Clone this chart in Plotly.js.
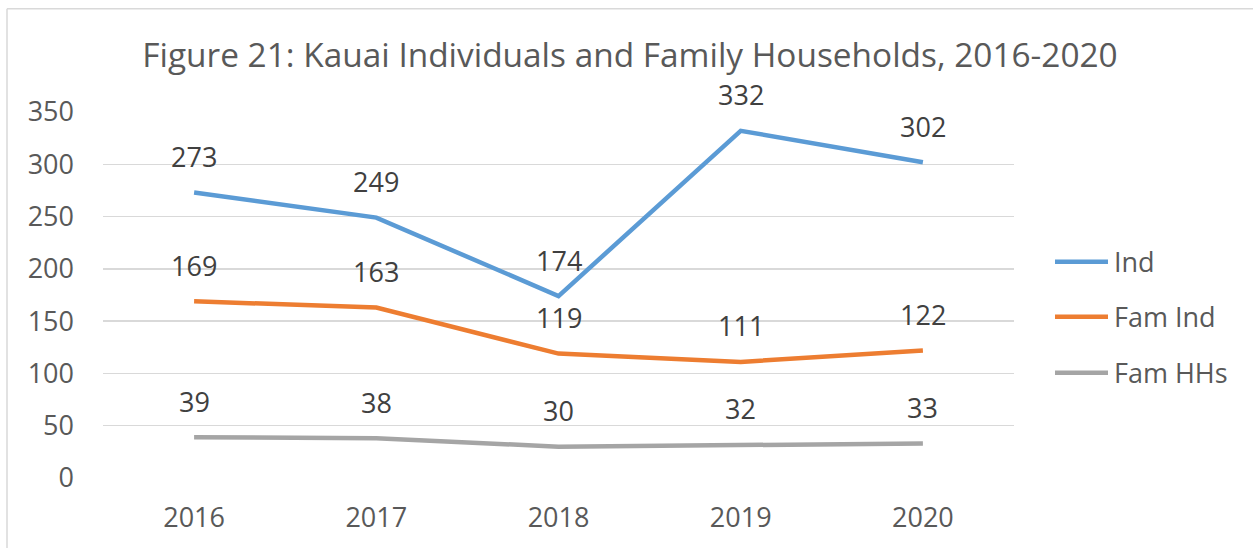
<!DOCTYPE html>
<html><head><meta charset="utf-8">
<script src="https://cdn.plot.ly/plotly-3.0.1.min.js"></script>
<style>html,body{margin:0;padding:0;background:#fff;}#chart{width:1253px;height:548px;}</style>
</head><body><div id="chart"></div>
<script>
const years = ['2016','2017','2018','2019','2020'];
const indValues = [273, 249, 174, 332, 302];
const famIndValues = [169, 163, 119, 111, 122];
const famHHsValues = [39, 38, 30, 32, 33];
const seriesNames = ['Ind', 'Fam Ind', 'Fam HHs'];
const seriesColors = ['#5B9BD5', '#ED7D31', '#A5A5A5'];
const yTicks = [0, 50, 100, 150, 200, 250, 300, 350];

const W = 1253, H = 548;
const L = 103, R = 1014, T = 112.3, B = 478.3;
const px = v => (v - L) / (R - L);
const py = v => (B - v) / (B - T);
const FONT = 'Open Sans, sans-serif';

const allSeries = [indValues, famIndValues, famHHsValues];
const traces = allSeries.map((vals, i) => ({
  type: 'scatter', mode: 'lines', x: years, y: vals, name: seriesNames[i],
  line: {color: seriesColors[i], width: 4.5}, hoverinfo: 'x+y', showlegend: false
}));

const annotations = [];
allSeries.forEach(vals => {
  vals.forEach((v, j) => annotations.push({
    x: j, y: v, xref: 'x', yref: 'y', text: String(v), showarrow: false, borderpad: 0,
    yanchor: 'middle', yshift: 36, font: {family: FONT, size: 27, color: '#404040'}
  }));
});

const legendRows = [262, 317, 373];
const shapes = [
  {type: 'line', xref: 'paper', yref: 'paper', x0: px(7), x1: px(W + 5), y0: py(9), y1: py(9), line: {color: '#D9D9D9', width: 1.5}},
  {type: 'line', xref: 'paper', yref: 'paper', x0: px(7), x1: px(7), y0: py(9), y1: py(H + 5), line: {color: '#D9D9D9', width: 1.5}}
];
seriesNames.forEach((n, i) => {
  shapes.push({type: 'line', xref: 'paper', yref: 'paper', x0: px(1055), x1: px(1108), y0: py(legendRows[i]), y1: py(legendRows[i]),
    line: {color: seriesColors[i], width: 4.5}});
  annotations.push({xref: 'paper', yref: 'paper', x: px(1112), y: py(legendRows[i]), xanchor: 'left', yanchor: 'middle',
    text: n, showarrow: false, font: {family: FONT, size: 27, color: '#595959'}});
});

const layout = {
  width: W, height: H,
  margin: {l: L, r: W - R, t: T, b: H - B, pad: 0},
  paper_bgcolor: '#fff', plot_bgcolor: '#fff',
  title: {text: 'Figure 21: Kauai Individuals and Family Households, 2016-2020',
    font: {family: FONT, size: 33.4, color: '#595959'}, x: 630 / W, xref: 'container', xanchor: 'center',
    y: 1 - 55 / H, yref: 'container', yanchor: 'middle'},
  xaxis: {type: 'category', range: [-0.5, 4.5], showgrid: false, zeroline: false, showline: false,
    ticks: '', tickfont: {family: FONT, size: 27, color: '#595959'}, ticklabelstandoff: 21, fixedrange: true},
  yaxis: {range: [0, 350], tickvals: yTicks, ticktext: yTicks.map(String), showgrid: true, gridcolor: '#D9D9D9', gridwidth: 1.5,
    zeroline: false, showline: false, ticks: '', tickfont: {family: FONT, size: 27, color: '#595959'}, ticklabelstandoff: 28, fixedrange: true},
  showlegend: false,
  annotations: annotations,
  shapes: shapes
};
Plotly.newPlot('chart', traces, layout, {displayModeBar: false, staticPlot: true});
</script></body></html>
